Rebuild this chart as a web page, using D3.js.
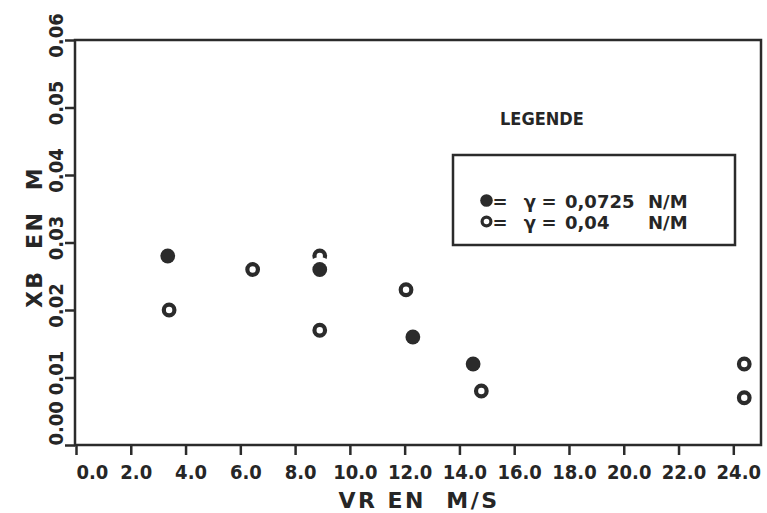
<!DOCTYPE html>
<html><head><meta charset="utf-8">
<script src="https://cdn.jsdelivr.net/npm/d3@7"></script>
<style>
html,body{margin:0;padding:0;background:#fff;}
svg text{font-family:"DejaVu Sans",sans-serif;font-weight:bold;fill:#262626;}
svg text.cond{font-family:"DejaVu Sans Condensed","DejaVu Sans",sans-serif;font-stretch:condensed;}
</style></head>
<body>
<svg id="chart" width="767" height="513"></svg>
<script>
// ---- data ----
const filledVR = [3.35, 8.9, 12.3, 14.5];            // γ = 0,0725 N/M
const filledXB = [0.028, 0.026, 0.016, 0.012];
const openVR = [3.4, 6.45, 8.9, 12.05, 8.9, 14.8, 24.4, 24.4];   // γ = 0,04 N/M
const openXB = [0.020, 0.026, 0.028, 0.023, 0.017, 0.008, 0.012, 0.007];
const xTicks = [0, 2, 4, 6, 8, 10, 12, 14, 16, 18, 20, 22, 24];
const yTicks = [0, 0.01, 0.02, 0.03, 0.04, 0.05, 0.06];
const xTitle = "VR EN  M/S";
const yTitle = "XB  EN  M";
const legendTitle = "LEGENDE";
const legendRows = [
  {filled: true, value: "0,0725", unit: "N/M"},
  {filled: false, value: "0,04", unit: "N/M"}
];

// ---- layout ----
const ink = "#2b2b2b";
const svg = d3.select("#chart");
const x = d3.scaleLinear().domain([0, 24]).range([76, 733.3]);
const y = d3.scaleLinear().domain([0, 0.06]).range([445, 40]);
const frameRight = 761;

// frame
svg.append("rect")
  .attr("x", x(0) - 1).attr("y", y(0.06))
  .attr("width", frameRight - (x(0) - 1)).attr("height", y(0) - y(0.06))
  .attr("fill", "none").attr("stroke", ink).attr("stroke-width", 2.5);

// x axis
const xAxis = d3.axisBottom(x).tickValues(xTicks).tickSize(10).tickPadding(7)
  .tickFormat(d3.format(".1f"));
const gx = svg.append("g").attr("transform", `translate(0,${y(0)})`).call(xAxis);
gx.select(".domain").remove();
gx.selectAll(".tick line").attr("stroke", ink).attr("stroke-width", 2.5);
gx.selectAll(".tick text")
  .attr("class", "cond")
  .attr("font-size", 20)
  .attr("fill", "#262626")
  .attr("dy", "0.85em")
  .attr("text-anchor", d => d === 0 ? "start" : "middle")
  .attr("x", d => d === 0 ? 0 : 5);

// y axis
const yAxis = d3.axisLeft(y).tickValues(yTicks).tickSize(10).tickFormat(d3.format(".2f"));
const gy = svg.append("g").attr("transform", `translate(${x(0) - 1},0)`).call(yAxis);
gy.select(".domain").remove();
gy.selectAll(".tick line").attr("stroke", ink).attr("stroke-width", 2.5);
gy.selectAll(".tick text")
  .attr("class", "cond")
  .attr("font-size", 20)
  .attr("fill", "#262626")
  .attr("x", null).attr("dy", null)
  .attr("text-anchor", d => d === 0 ? "start" : "middle")
  .attr("transform", d => `translate(-12,${d === 0 ? 0 : -5}) rotate(-90)`);

// axis titles
svg.append("text").attr("x", 419).attr("y", 508)
  .attr("text-anchor", "middle").attr("font-size", 22).attr("letter-spacing", 2.5)
  .attr("xml:space", "preserve").style("white-space", "pre")
  .text(xTitle);
svg.append("text").attr("transform", "translate(42,237) rotate(-90)")
  .attr("text-anchor", "middle").attr("font-size", 22).attr("letter-spacing", 2.5)
  .attr("xml:space", "preserve").style("white-space", "pre")
  .text(yTitle);

// data points: open first, filled on top with white halo
svg.append("g").selectAll("circle").data(openVR.map((v, i) => [v, openXB[i]]))
  .join("circle")
  .attr("cx", d => x(d[0])).attr("cy", d => y(d[1])).attr("r", 5.3)
  .attr("fill", "none").attr("stroke", ink).attr("stroke-width", 4.2);
const gf = svg.append("g");
const filledPts = filledVR.map((v, i) => [v, filledXB[i]]);
gf.selectAll("circle.halo").data(filledPts).join("circle").attr("class", "halo")
  .attr("cx", d => x(d[0])).attr("cy", d => y(d[1])).attr("r", 12.5)
  .attr("fill", "#fff");
gf.selectAll("circle.dot").data(filledPts).join("circle").attr("class", "dot")
  .attr("cx", d => x(d[0])).attr("cy", d => y(d[1])).attr("r", 7.4)
  .attr("fill", ink);

// legend
svg.append("text").attr("class", "cond").attr("x", 500).attr("y", 125)
  .attr("font-size", 18)
  .text(legendTitle);
svg.append("rect").attr("x", 453).attr("y", 155).attr("width", 282).attr("height", 90)
  .attr("fill", "none").attr("stroke", ink).attr("stroke-width", 2.5);
const rowY = [208, 229];
legendRows.forEach((r, i) => {
  const by = rowY[i];
  const c = svg.append("circle").attr("cx", 486.5).attr("cy", by - 7.5);
  if (r.filled) c.attr("r", 6.3).attr("fill", ink);
  else c.attr("r", 4.4).attr("fill", "none").attr("stroke", ink).attr("stroke-width", 3.2);
  const t = (tx, str, anchor) => svg.append("text").attr("x", tx).attr("y", by)
    .attr("font-size", 18)
    .attr("text-anchor", anchor || "start").text(str);
  t(500, "=", "middle");
  t(530, "γ", "middle");
  t(549, "=", "middle");
  t(565, r.value);
  t(648, r.unit);
});
</script>
</body></html>
